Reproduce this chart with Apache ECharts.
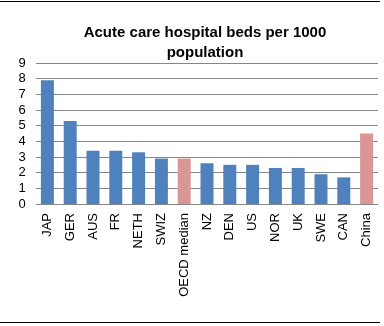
<!DOCTYPE html>
<html><head><meta charset="utf-8">
<script src="https://cdn.jsdelivr.net/npm/echarts@6/dist/echarts.min.js"></script>
<style>html,body{margin:0;padding:0;background:#fff}#c{width:384px;height:326px}</style>
</head><body><div id="c"></div>
<script>
const categories = ["JAP","GER","AUS","FR","NETH","SWIZ","OECD median","NZ","DEN","US","NOR","UK","SWE","CAN","China"];
const values = [7.9,5.3,3.4,3.4,3.3,2.9,2.9,2.6,2.5,2.5,2.3,2.3,1.9,1.7,4.5];
const highlighted = ["OECD median","China"];
const yTicks = [0,1,2,3,4,5,6,7,8,9];
const titleText = "Acute care hospital beds per 1000\npopulation";

const chart = echarts.init(document.getElementById('c'), null, {renderer:'canvas'});
chart.setOption({
  animation:false,
  backgroundColor:'#fff',
  graphic:[
    {type:'line', shape:{x1:0,y1:1.5,x2:380,y2:1.5}, style:{stroke:'#000',lineWidth:1}},
    {type:'line', shape:{x1:0,y1:322.5,x2:380,y2:322.5}, style:{stroke:'#000',lineWidth:1}}
  ],
  title:{text:titleText,left:200,textAlign:'center',top:18,
    textStyle:{fontFamily:'Liberation Sans',fontWeight:'bold',fontSize:15,lineHeight:20,color:'#000'}},
  grid:{left:36,right:6,top:63,bottom:122},
  xAxis:{type:'category',data:categories,
    axisLine:{lineStyle:{color:'#868686'}},axisTick:{show:false},
    axisLabel:{rotate:90,interval:0,margin:9,fontFamily:'Liberation Sans',fontSize:13,color:'#000'}},
  yAxis:{type:'value',min:yTicks[0],max:yTicks[yTicks.length-1],interval:1,
    axisLine:{show:false},axisTick:{show:false},
    splitLine:{lineStyle:{color:'#868686'}},
    axisLabel:{margin:14,fontFamily:'Liberation Sans',fontSize:13,color:'#000',align:'center'}},
  series:[{type:'bar',barWidth:'57%',
    data:values.map((v,i)=>({value:v,itemStyle:{color:highlighted.includes(categories[i])?'#D99694':'#4F81BD'}}))}]
});
</script></body></html>
